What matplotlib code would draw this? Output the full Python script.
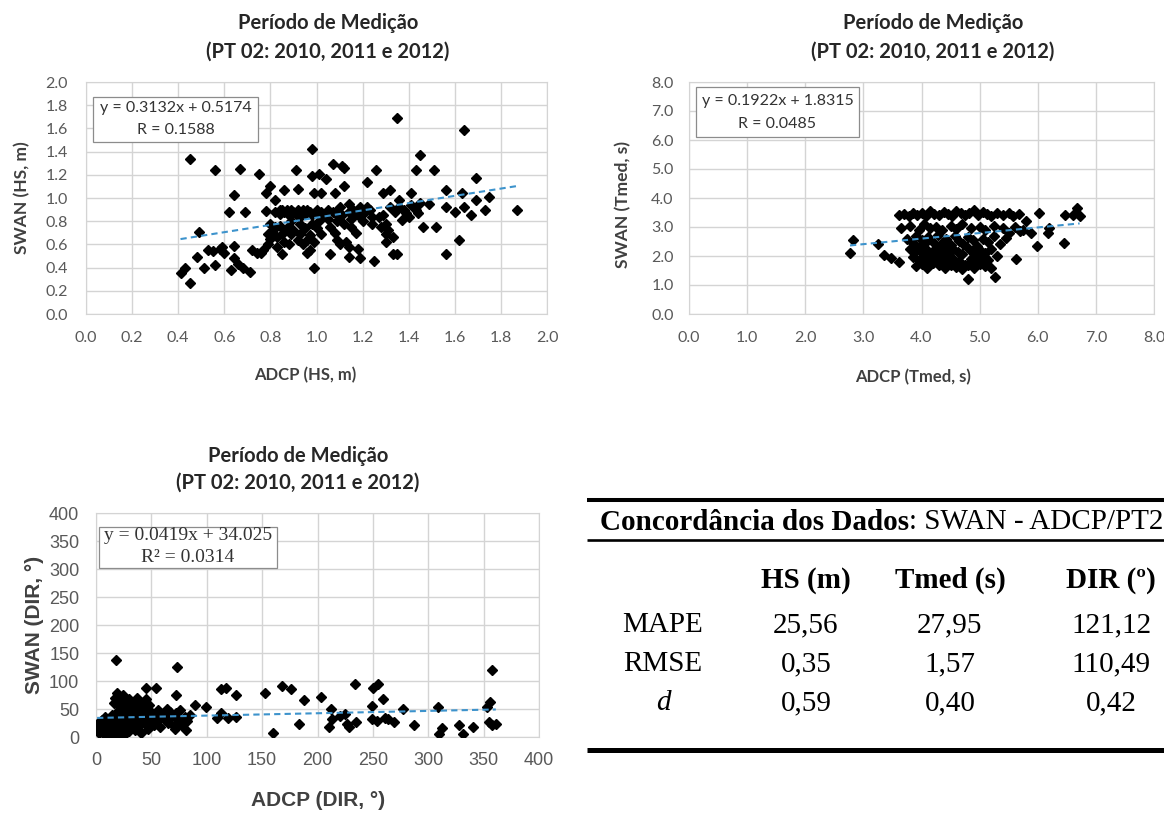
import numpy as np
import matplotlib
matplotlib.use('Agg')
import matplotlib.pyplot as plt
from matplotlib.lines import Line2D
from matplotlib.patches import Rectangle

W, H = 1164, 814

# HS (m): ADCP x SWAN
hs_adcp = [0.41, 0.43, 0.45, 0.45, 0.48, 0.49, 0.51, 0.53, 0.56, 0.55, 0.56, 0.58, 0.59, 0.60, 0.62, 0.64,
           0.63, 0.64, 0.64, 0.66, 0.67, 0.69, 0.68, 0.71, 0.75, 0.74, 0.76, 0.78, 0.78, 0.79, 0.80, 0.82,
           0.82, 0.83, 0.84, 0.86, 0.85, 0.85, 0.88, 0.89, 0.90, 0.91, 0.92, 0.93, 0.93, 0.95, 0.96, 0.96,
           0.98, 0.98, 0.99, 0.99, 1.01, 1.01, 1.02, 1.02, 1.04, 1.06, 1.07, 1.08, 1.08, 1.09, 1.11, 1.12,
           1.12, 1.14, 1.14, 1.14, 1.15, 1.18, 1.19, 1.22, 1.22, 1.24, 1.25, 1.26, 1.27, 1.28, 1.30, 1.29,
           1.32, 1.33, 1.35, 1.35, 1.36, 1.37, 1.39, 1.41, 1.43, 1.45, 1.44, 1.46, 1.49, 1.51, 1.52, 1.56,
           1.56, 1.56, 1.60, 1.62, 1.64, 1.63, 1.64, 1.67, 1.69, 1.69, 1.73, 1.75, 1.87,
           0.82, 0.84, 0.85, 0.86, 0.87, 0.88, 0.89, 0.90, 0.91, 0.92, 0.93, 0.94, 0.95, 0.96, 0.97, 0.98,
           1.00, 1.02, 1.03, 1.05, 0.80, 0.81, 0.83, 0.84, 0.86, 0.87, 0.88, 0.89, 0.90, 0.92, 0.93, 0.94,
           0.95, 0.97, 0.98, 0.99, 1.00, 0.97, 1.01, 1.05, 1.06, 1.07, 1.08, 1.09, 1.10, 1.10, 1.11, 1.12,
           1.13, 1.14, 1.15, 1.16, 1.17, 1.18, 1.19, 1.20, 1.21, 1.23, 1.24, 1.29, 1.30, 1.31, 1.32, 1.34,
           1.36, 1.38, 1.40, 1.41, 1.43, 1.45, 1.33, 1.30, 0.72, 0.77, 0.79, 0.80]
hs_swan = [0.35, 0.40, 1.34, 0.27, 0.49, 0.71, 0.40, 0.55, 1.24, 0.54, 0.42, 0.56, 0.58, 0.53, 0.88, 1.03,
           0.38, 0.59, 0.48, 0.43, 1.25, 0.88, 0.40, 0.36, 1.21, 0.53, 0.53, 1.04, 0.89, 0.69, 1.10, 0.98,
           0.75, 0.58, 0.90, 1.07, 0.69, 0.52, 0.87, 0.69, 0.87, 1.24, 1.08, 0.84, 0.69, 0.87, 0.64, 0.53,
           1.42, 1.19, 1.04, 0.40, 0.87, 1.21, 0.69, 1.04, 1.16, 0.52, 1.29, 1.04, 0.87, 0.64, 1.28, 1.26,
           1.10, 0.58, 0.49, 0.95, 0.75, 0.56, 0.48, 1.14, 0.92, 0.84, 0.46, 1.24, 0.84, 0.75, 0.69, 1.04,
           1.07, 0.52, 1.69, 0.52, 0.92, 0.81, 0.87, 1.04, 1.24, 1.37, 0.87, 0.75, 0.95, 1.24, 0.75, 0.52,
           1.07, 0.92, 0.88, 0.64, 1.59, 1.04, 0.92, 0.85, 1.17, 0.98, 0.90, 1.01, 0.90,
           0.88, 0.86, 0.90, 0.88, 0.90, 0.85, 0.90, 0.88, 0.86, 0.90, 0.88, 0.90, 0.86, 0.90, 0.88, 0.85,
           0.90, 0.88, 0.85, 0.90, 0.78, 0.72, 0.66, 0.76, 0.62, 0.74, 0.60, 0.80, 0.72, 0.64, 0.78, 0.60,
           0.74, 0.68, 0.78, 0.62, 0.74, 0.55, 0.80, 0.82, 0.75, 0.88, 0.70, 0.80, 0.92, 0.60, 0.85, 0.78,
           0.62, 0.88, 0.82, 0.90, 0.70, 0.85, 0.92, 0.80, 0.88, 0.90, 0.78, 0.85, 0.78, 0.72, 0.92, 0.88,
           0.98, 0.90, 0.84, 0.94, 0.90, 0.96, 0.66, 0.62, 0.55, 0.55, 0.60, 0.65]
hs_fit = (0.3132, 0.5174)

# Tmed (s): ADCP x SWAN
tm_adcp = [2.77, 2.82, 3.25, 3.35, 3.48, 3.62, 4.80, 5.27, 5.62, 5.98, 6.02, 6.18, 6.20, 6.45, 6.47, 6.60,
           6.68, 6.72, 5.88, 5.80, 5.70,
           3.62, 3.70, 3.78, 3.85, 3.92, 4.00, 4.08, 4.15, 4.22, 4.30, 4.38, 4.45, 4.52, 4.60, 4.68, 4.75,
           4.82, 4.90, 4.98, 5.05, 5.12, 5.20, 5.30, 5.40, 5.50, 5.58, 5.68,
           3.65, 3.80, 3.95, 4.05, 4.15, 4.25, 4.35, 4.50, 4.60, 4.70, 4.85, 5.00, 5.10, 5.25, 5.40, 5.50,
           5.60, 5.75,
           3.75, 3.85, 3.90, 4.00, 4.05, 4.12, 4.20, 4.28, 4.35, 4.42, 4.50, 4.58, 4.65, 4.72, 4.80, 4.88,
           4.95, 5.05, 5.15, 5.25, 5.35, 5.45,
           3.80, 3.88, 3.95, 4.02, 4.10, 4.18, 4.25, 4.32, 4.40, 4.48, 4.55, 4.62, 4.70, 4.78, 4.85, 4.92,
           5.00, 5.10, 5.20, 5.30,
           3.85, 3.95, 4.05, 4.15, 4.25, 4.35, 4.45, 4.55, 4.65, 4.75, 4.85, 4.95, 5.05, 5.15,
           3.90, 4.00, 4.10, 4.20, 4.30, 4.40, 4.50, 4.60, 4.70, 4.80, 4.90, 5.00, 5.10, 5.20]
tm_swan = [2.12, 2.55, 2.40, 2.05, 1.92, 1.78, 1.20, 1.28, 1.88, 2.33, 3.48, 2.78, 2.95, 2.45, 3.42, 3.42,
           3.65, 3.38, 2.80, 3.20, 2.85,
           3.40, 3.45, 3.38, 3.50, 3.42, 3.48, 3.38, 3.55, 3.45, 3.40, 3.52, 3.45, 3.38, 3.55, 3.48, 3.42,
           3.50, 3.58, 3.40, 3.52, 3.45, 3.38, 3.50, 3.42, 3.48, 3.38, 3.45,
           2.95, 3.05, 2.90, 3.10, 2.95, 3.00, 2.88, 3.05, 2.92, 3.10, 2.95, 3.00, 2.88, 3.05, 2.95, 2.80,
           3.00, 2.90,
           2.60, 2.45, 2.70, 2.55, 2.40, 2.65, 2.50, 2.72, 2.45, 2.60, 2.38, 2.68, 2.52, 2.42, 2.65, 2.55,
           2.35, 2.60, 2.48, 2.70, 2.40, 2.62,
           2.25, 2.15, 2.30, 2.10, 2.22, 2.05, 2.28, 2.12, 2.20, 2.02, 2.25, 2.15, 2.08, 2.30, 2.18, 2.05,
           2.22, 2.12, 2.25, 2.00,
           1.95, 1.85, 1.92, 1.80, 1.95, 1.88, 1.75, 1.90, 1.82, 1.70, 1.88, 1.78, 1.92, 1.85,
           1.65, 1.72, 1.60, 1.75, 1.68, 1.58, 1.70, 1.62, 1.55, 1.68, 1.60, 1.72, 1.65, 1.58]
tm_fit = (0.1922, 1.8315)

# DIR (graus): ADCP x SWAN
dr_adcp = [18, 73, 358, 45, 54, 72, 113, 117, 126, 153, 168, 176, 188, 203, 234, 250, 255, 259, 249, 277,
           309, 356, 353, 355, 361, 358, 160, 331, 328, 340, 312, 310, 287, 269, 264, 249, 254, 261, 235,
           228, 227, 220, 225, 212, 213, 210, 183, 126, 113, 109, 119, 99, 89, 81, 81, 71, 69,
           1, 2, 3, 4, 5, 5, 6, 7, 8, 8, 9, 10, 10, 11, 12, 12, 13, 14, 14, 15, 15, 16, 16, 17, 17,
           18, 18, 19, 19, 20, 20, 21, 21, 22, 22, 23, 23, 24, 24, 25, 25, 26, 26, 27, 27, 28, 29, 30,
           30, 30, 31, 32, 32, 33, 34, 35, 35, 36, 37, 38, 38, 39, 40, 41, 42, 43, 44, 45, 46, 47, 48,
           49, 50, 52, 53, 55, 56, 58, 60, 62, 64, 65, 67, 68, 70, 72, 74, 76, 78, 80, 82, 85]
dr_swan = [137, 125, 120, 88, 88, 75, 86, 88, 75, 79, 91, 85, 66, 71, 94, 88, 94, 67, 55, 50,
           53, 62, 53, 26, 24, 21, 7, 6, 21, 18, 16, 6, 22, 27, 32, 32, 29, 34, 27,
           18, 24, 38, 41, 50, 32, 18, 24, 35, 42, 34, 34, 53, 57, 32, 12, 15, 38,
           15, 25, 8, 20, 30, 12, 18, 5, 25, 35, 12, 20, 28, 8, 15, 33, 22, 5, 40, 18, 28, 12, 60, 35, 70,
           8, 22, 45, 78, 15, 30, 55, 3, 25, 65, 10, 40, 20, 75, 32, 50, 5, 15, 28, 60, 42, 22, 10,
           35, 68, 52, 18, 28, 62, 40, 12, 25, 55, 70, 30, 45, 20, 62, 8, 35, 50, 25, 68, 40, 15, 58,
           30, 45, 22, 35, 28, 48, 18, 40, 30, 50, 25, 45, 35, 20, 42, 30, 48, 22, 35, 28, 40]
dr_fit = (0.0419, 34.025)

# tabela de concordancia
tab_cols = ['HS (m)', 'Tmed (s)', 'DIR (º)']
tab_rows = ['MAPE', 'RMSE', 'd']
tab_vals = [['25,56', '27,95', '121,12'],
            ['0,35', '1,57', '110,49'],
            ['0,59', '0,40', '0,42']]

TICK_C = '#595959'
LAB_C = '#404040'
GRID_C = '#d4d4d4'
TREND_C = '#3d93cc'


def rect(l, t, r, b):
    return [l / W, 1 - b / H, (r - l) / W, (b - t) / H]


def T(x, y, s, **kw):
    # texto posicionado em pixels da figura
    kw.setdefault('ha', 'center')
    kw.setdefault('va', 'center')
    return fig.text(x / W, 1 - y / H, s, **kw)


def eq_box(l, t, r, b, lines, ys, font, fs):
    fig.add_artist(Rectangle((l / W, 1 - b / H), (r - l) / W, (b - t) / H, transform=fig.transFigure,
                             fc='white', ec='#8c8c8c', lw=0.9, zorder=5))
    for s, y in zip(lines, ys):
        t = T((l + r) / 2, y, s, fontsize=fs, family=font, color='#333333')
        t.set_zorder(6)


def scatter_panel(ax, x, y, fit, xmax, xstep, ymax, ystep, fmt, font, fs_tick, xpad, ypad):
    ax.plot(x, y, 'D', color='black', ms=4.8, zorder=3)
    xs = np.array([min(x), max(x)])
    ax.plot(xs, fit[0] * xs + fit[1], '--', color=TREND_C, lw=1.5, dashes=(3, 2), zorder=4)
    ax.set_xlim(0, xmax)
    ax.set_ylim(0, ymax)
    xt = np.arange(0, xmax + xstep / 2, xstep)
    yt = np.arange(0, ymax + ystep / 2, ystep)
    ax.set_xticks(xt)
    ax.set_yticks(yt)
    ax.set_xticklabels([fmt.format(v) for v in xt], fontsize=fs_tick, color=TICK_C, family=font)
    ax.set_yticklabels([fmt.format(v) for v in yt], fontsize=fs_tick, color=TICK_C, family=font)
    ax.tick_params(axis='x', length=0, pad=xpad)
    ax.tick_params(axis='y', length=0, pad=ypad)
    ax.grid(True, color=GRID_C, lw=1)
    ax.set_axisbelow(True)
    for s in ax.spines.values():
        s.set_color(GRID_C)


fig = plt.figure(figsize=(W / 100, H / 100), dpi=100)
fig.patch.set_facecolor('white')

tit1 = 'Período de Medição'
tit2 = '(PT 02: 2010, 2011 e 2012)'
tkw = dict(fontsize=14.5, fontweight='bold', family='Lato', color='#262626')

# HS
ax1 = fig.add_axes(rect(86, 82, 547, 314))
scatter_panel(ax1, hs_adcp, hs_swan, hs_fit, 2.0, 0.2, 2.0, 0.2, '{:.1f}', 'Lato', 11.5, 12, 13)
T(328, 23, tit1, **tkw)
T(328, 52, tit2, **tkw)
T(305, 375, 'ADCP (HS, m)', fontsize=12, fontweight='bold', family='Lato', color=LAB_C)
T(22, 198, 'SWAN (HS, m)', fontsize=12.5, fontweight='bold', family='Lato', color=LAB_C, rotation=90)
eq_box(93, 97, 258, 142, ['y = 0.3132x + 0.5174', 'R = 0.1588'], [108, 130], 'Lato', 11.5)

# Tmed
ax2 = fig.add_axes(rect(689, 82, 1154, 314))
scatter_panel(ax2, tm_adcp, tm_swan, tm_fit, 8.0, 1.0, 8.0, 1.0, '{:.1f}', 'Lato', 11.5, 12, 11)
T(933, 23, tit1, **tkw)
T(933, 52, tit2, **tkw)
T(913, 377, 'ADCP (Tmed, s)', fontsize=12, fontweight='bold', family='Lato', color=LAB_C)
T(623, 205, 'SWAN (Tmed, s)', fontsize=12.5, fontweight='bold', family='Lato', color=LAB_C, rotation=90)
eq_box(696, 87, 859, 137, ['y = 0.1922x + 1.8315', 'R = 0.0485'], [101, 124], 'Lato', 11.5)

# DIR
ax3 = fig.add_axes(rect(96, 513, 539, 737))
scatter_panel(ax3, dr_adcp, dr_swan, dr_fit, 400, 50, 400, 50, '{:.0f}', 'Liberation Sans', 13, 11, 12)
T(298, 456, tit1, **tkw)
T(298, 483, tit2, **tkw)
T(318, 800, 'ADCP (DIR, °)', fontsize=15, fontweight='bold', family='Liberation Sans', color=LAB_C)
T(34, 625, 'SWAN (DIR, °)', fontsize=15, fontweight='bold', family='Liberation Sans', color=LAB_C,
  rotation=90)
eq_box(99, 527, 277, 568, ['y = 0.0419x + 34.025', 'R² = 0.0314'], [536, 558], 'Liberation Serif', 14)

# tabela
serif = 'Liberation Serif'
fs_t = 21
for y0, lw in [(500, 2.9), (540, 1.9), (750, 3.6)]:
    fig.add_artist(Line2D([587 / W, 1.0], [1 - y0 / H, 1 - y0 / H], transform=fig.transFigure,
                          color='black', lw=lw, solid_capstyle='butt'))

t1 = T(600, 519, 'Concordância dos Dados', fontsize=fs_t, fontweight='bold', family=serif, ha='left',
       va='center_baseline')
fig.canvas.draw()
bb = t1.get_window_extent()
fig.text(bb.x1 / W, 1 - 519 / H, ': SWAN - ADCP/PT2', fontsize=fs_t, family=serif, ha='left',
         va='center_baseline')

col_x = [806, 950, 1111]
row_x = 663
for cx, c in zip(col_x, tab_cols):
    T(cx, 577, c, fontsize=fs_t, fontweight='bold', family=serif, va='center_baseline')
for i, (r, vals) in enumerate(zip(tab_rows, tab_vals)):
    yc = 622 + 39 * i
    T(row_x, yc, r, fontsize=fs_t, family=serif, va='center_baseline',
      style='italic' if r == 'd' else 'normal')
    for cx, v in zip(col_x, vals):
        T(cx, yc, v, fontsize=fs_t, family=serif, va='center_baseline')

fig.savefig('out.png', dpi=100)
